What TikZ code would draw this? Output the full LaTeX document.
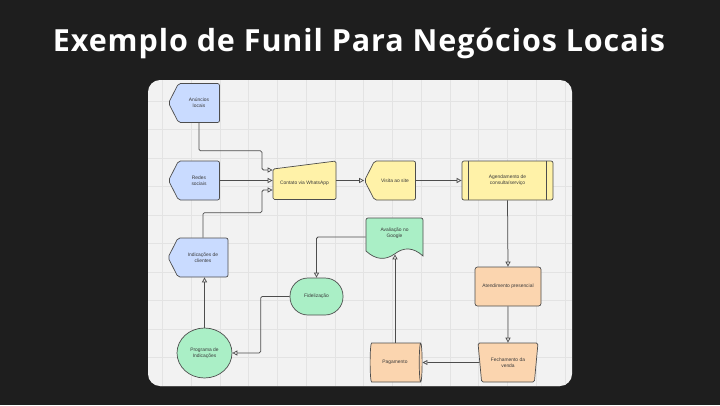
\documentclass[tikz,border=0pt]{standalone}
\usepackage{fontspec}
\usetikzlibrary{shapes.geometric,shapes.symbols,arrows.meta}
\newfontfamily\diagfont{Liberation Sans}
\newfontfamily\titlefont{Open Sans}[LetterSpace=3]
\definecolor{bgdark}{HTML}{1E1E1E}
\definecolor{panelgrey}{HTML}{F2F2F2}
\definecolor{gridgrey}{HTML}{E3E3E3}
\definecolor{linegrey}{HTML}{4D4D4D}
\definecolor{textgrey}{HTML}{3A3A3A}
\definecolor{bluefill}{HTML}{C9DBFF}
\definecolor{yellowfill}{HTML}{FFF2A8}
\definecolor{greenfill}{HTML}{AAEFC6}
\definecolor{orangefill}{HTML}{FBD5AF}

\begin{document}
\begin{tikzpicture}[x=1pt,y=-1pt,
  shapebox/.style={draw=linegrey,line width=0.7pt,font=\diagfont\fontsize{4.9}{6}\selectfont,
    text=textgrey,align=center,inner sep=1pt},
  bluebox/.style={shapebox,fill=bluefill},
  yellowbox/.style={shapebox,fill=yellowfill},
  greenbox/.style={shapebox,fill=greenfill},
  orangebox/.style={shapebox,fill=orangefill},
  displaybox/.style={signal,signal to=west,signal pointer angle=126,rounded corners=2pt,
    minimum width=51pt,minimum height=39pt},
  gridline/.style={draw=gridgrey,line width=0.6pt},
  flow/.style={draw=linegrey,line width=0.75pt,rounded corners=1.5pt,
    -{Triangle[open,length=5pt,width=5pt]}}]
   \useasboundingbox (0,0) rectangle (720,405);
   \fill[bgdark] (0,0) rectangle (720,405);
   \node[font=\titlefont\bfseries\fontsize{30.5}{36}\selectfont,text=white,anchor=base] (titulo) at (359,51.5) {Exemplo de Funil Para Negócios Locais};
   % panel with grid
   \fill[panelgrey,rounded corners=12pt] (148,80) rectangle (572,386);
   \begin{scope}
      \clip[rounded corners=12pt] (148,80) rectangle (572,386);
      \foreach \gx in {0,...,14} \draw[gridline] ({162.5+28.75*\gx},80) -- ({162.5+28.75*\gx},386);
      \foreach \gy in {0,...,10} \draw[gridline] (148,{101+28.5*\gy}) -- (572,{101+28.5*\gy});
   \end{scope}
   % left column
   \node[bluebox,displaybox] (anuncios) at (199,103) {Anúncios\\locais};
   \node[bluebox,displaybox] (redes) at (199,180.5) {Redes\\sociais};
   \node[bluebox,displaybox,minimum width=60pt] (indicacoes) at (203,257.5) {Indicações de\\clientes};
   % manual input
   \filldraw[shapebox,fill=yellowfill,rounded corners=1.5pt] (273,169) -- (336,161) -- (336,199.5) -- (273,199.5) -- cycle;
   \node[shapebox,draw=none,minimum width=63pt,minimum height=30pt] (contato) at (304.5,183.5) {Contato via WhatsApp};
   \node[yellowbox,displaybox] (visita) at (395,180.5) {Visita ao site};
   \node[yellowbox,rounded corners=2pt,minimum width=91pt,minimum height=39pt] (agendamento) at (507.5,180.5) {Agendamento de\\consulta/serviço};
   \draw[linegrey,line width=0.7pt] ([xshift=7pt]agendamento.north west) -- ([xshift=7pt]agendamento.south west);
   \draw[linegrey,line width=0.7pt] ([xshift=-7pt]agendamento.north east) -- ([xshift=-7pt]agendamento.south east);
   \node[orangebox,rounded corners=2.5pt,minimum width=66pt,minimum height=39pt] (atendimento) at (508,286.5) {Atendimento presencial};
   \node[orangebox,trapezium,shape border rotate=180,trapezium angle=78,trapezium stretches=true,
      rounded corners=1.5pt,minimum width=60pt,minimum height=39pt] (fechamento) at (508,362.5) {Fechamento da\\venda};
   \node[orangebox,cylinder,aspect=0.45,minimum width=39pt,minimum height=52pt] (pagamento) at (395,362.5) {Pagamento};
   % document shape
   \filldraw[shapebox,fill=greenfill] (366,251) [rounded corners=2pt] -- (366,218) -- (423,218) [sharp corners] -- (423,256)
      .. controls (413.5,247.3) and (404,246.7) .. (394.5,254)
      .. controls (385,260.7) and (375.5,259.7) .. (366,251) -- cycle;
   \node[shapebox,draw=none,minimum width=57pt,minimum height=42pt] (avaliacao) at (394.5,233) {Avaliação no\\Google};
   \node[greenbox,rounded corners=18pt,minimum width=53pt,minimum height=37pt] (fidelizacao) at (316.5,296.5) {Fidelização};
   \node[greenbox,ellipse,inner sep=0pt,minimum width=55pt,minimum height=50pt] (programa) at (204.5,353) {Programa de\\Indicações};
   % connectors
   \draw[flow] (anuncios.south) |- ++(63,28) |- ([yshift=13.5pt]contato.west);
   \draw[flow] (redes.east) -- (redes.east -| contato.west);
   \draw[flow] (indicacoes.north) |- ++(59,-25) |- ([yshift=-6.5pt]contato.west);
   \draw[flow] (contato.east |- visita.west) -- (visita.west);
   \draw[flow] (visita.east) -- (agendamento.west);
   \draw[flow] (agendamento.south) -- (atendimento.north);
   \draw[flow] (atendimento.south) -- (fechamento.north);
   \draw[flow] (fechamento.west) -- (pagamento.east);
   \draw[flow] (pagamento.north) -- (pagamento.north |- avaliacao.south);
   \draw[flow] ([yshift=-4pt]avaliacao.west) -| (fidelizacao.north);
   \draw[flow] (fidelizacao.west) -- ++(-29,0) |- (programa.east);
   \draw[flow] (programa.north) -- (programa.north |- indicacoes.south);
\end{tikzpicture}
\end{document}
